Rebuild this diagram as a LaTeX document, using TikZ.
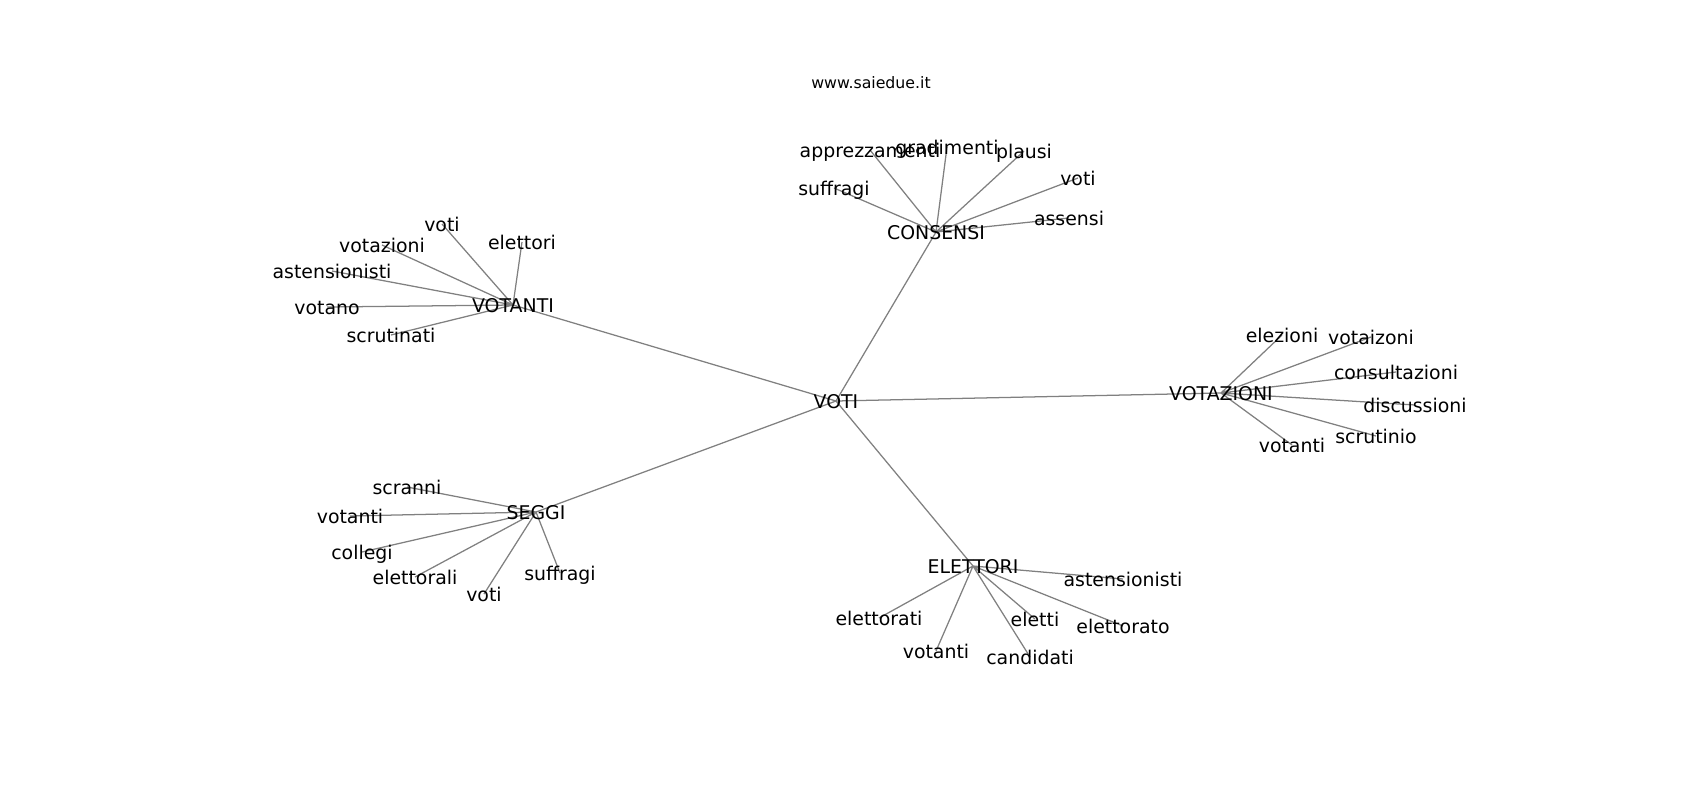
\documentclass[tikz,border=0pt]{standalone}
\usepackage{fontspec}
\setmainfont{DejaVu Sans}
\pgfdeclarelayer{bg}
\pgfsetlayers{bg,main}
\tikzset{
    word/.style={font=\fontsize{12}{14}\selectfont, inner sep=0pt, text height=1.0em, text depth=0pt},
    link/.style={draw=black!50, line width=0.8pt}
}
\begin{document}
\begin{tikzpicture}[x=0.635pt, y=-0.635pt]
        \useasboundingbox (0, 0) rectangle (1700, 800);
        \draw (871, 81) node[word, font=\fontsize{10}{12}\selectfont](title){www.saiedue.it};
        % hubs
        \draw (836, 401) node[word](voti){VOTI}
        (936, 232) node[word](consensi){CONSENSI}
        (513, 305) node[word](votanti){VOTANTI}
        (1221, 393) node[word](votazioni){VOTAZIONI}
        (536, 512) node[word](seggi){SEGGI}
        (973, 566) node[word](elettori){ELETTORI};
        % consensi
        \draw (870, 150) node[word](c1){apprezzamenti}
        (947, 147) node[word](c2){gradimenti}
        (1024, 151) node[word](c3){plausi}
        (1078, 178) node[word](c4){voti}
        (1069, 218) node[word](c5){assensi}
        (834, 188) node[word](c6){suffragi};
        % votanti
        \draw (442, 224) node[word](t1){voti}
        (522, 242) node[word](t2){elettori}
        (382, 245) node[word](t3){votazioni}
        (332, 271) node[word](t4){astensionisti}
        (327, 307) node[word](t5){votano}
        (391, 335) node[word](t6){scrutinati};
        % votazioni
        \draw (1282, 335) node[word](z1){elezioni}
        (1371, 337) node[word](z2){votaizoni}
        (1396, 372) node[word](z3){consultazioni}
        (1415, 405) node[word](z4){discussioni}
        (1376, 436) node[word](z5){scrutinio}
        (1292, 445) node[word](z6){votanti};
        % seggi
        \draw (407, 487) node[word](s1){scranni}
        (350, 516) node[word](s2){votanti}
        (362, 552) node[word](s3){collegi}
        (415, 577) node[word](s4){elettorali}
        (484, 594) node[word](s5){voti}
        (560, 573) node[word](s6){suffragi};
        % elettori
        \draw (1123, 579) node[word](e1){astensionisti}
        (879, 618) node[word](e2){elettorati}
        (1035, 619) node[word](e3){eletti}
        (1123, 626) node[word](e4){elettorato}
        (936, 651) node[word](e5){votanti}
        (1030, 657) node[word](e6){candidati};
        \begin{pgfonlayer}{bg}
        \draw[link] (voti.center) -- (consensi.center);
        \draw[link] (voti.center) -- (votanti.center);
        \draw[link] (voti.center) -- (votazioni.center);
        \draw[link] (voti.center) -- (seggi.center);
        \draw[link] (voti.center) -- (elettori.center);
        \draw[link] (consensi.center) -- (c1.center) (consensi.center) -- (c2.center)
        (consensi.center) -- (c3.center) (consensi.center) -- (c4.center)
        (consensi.center) -- (c5.center) (consensi.center) -- (c6.center);
        \draw[link] (votanti.center) -- (t1.center) (votanti.center) -- (t2.center)
        (votanti.center) -- (t3.center) (votanti.center) -- (t4.center)
        (votanti.center) -- (t5.center) (votanti.center) -- (t6.center);
        \draw[link] (votazioni.center) -- (z1.center) (votazioni.center) -- (z2.center)
        (votazioni.center) -- (z3.center) (votazioni.center) -- (z4.center)
        (votazioni.center) -- (z5.center) (votazioni.center) -- (z6.center);
        \draw[link] (seggi.center) -- (s1.center) (seggi.center) -- (s2.center)
        (seggi.center) -- (s3.center) (seggi.center) -- (s4.center)
        (seggi.center) -- (s5.center) (seggi.center) -- (s6.center);
        \draw[link] (elettori.center) -- (e1.center) (elettori.center) -- (e2.center)
        (elettori.center) -- (e3.center) (elettori.center) -- (e4.center)
        (elettori.center) -- (e5.center) (elettori.center) -- (e6.center);
        \end{pgfonlayer}
    \end{tikzpicture}
\end{document}
